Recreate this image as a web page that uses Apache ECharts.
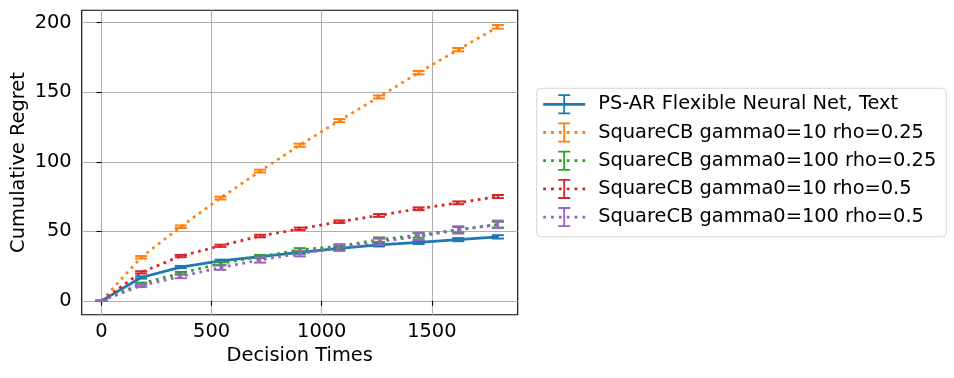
<!DOCTYPE html>
<html>
<head>
<meta charset="utf-8">
<script src="https://cdn.jsdelivr.net/npm/echarts@6/dist/echarts.min.js"></script>
<style>
  html, body { margin: 0; padding: 0; background: #fff; }
  #chart { width: 954px; height: 378px; }
</style>
</head>
<body>
<div id="chart"></div>
<script>
// decision times where the runs were checkpointed
var times = [0, 180, 360, 540, 720, 900, 1080, 1260, 1440, 1620, 1800];

var names = [
  "PS-AR Flexible Neural Net, Text",
  "SquareCB gamma0=10 rho=0.25",
  "SquareCB gamma0=100 rho=0.25",
  "SquareCB gamma0=10 rho=0.5",
  "SquareCB gamma0=100 rho=0.5"
];

var psarMean = [0, 16.8, 24.3, 28.7, 31.8, 34.9, 37.7, 40.2, 42.0, 44.0, 46.0];
var psarErr = [0, 0.8, 0.8, 0.9, 0.9, 1.0, 1.0, 1.1, 1.1, 1.1, 1.2];

var sq10q = [0, 31.3, 53.3, 73.9, 93.3, 111.9, 129.6, 146.6, 164.1, 180.6, 197.0];
var sq10qErr = [0, 0.9, 0.9, 1.0, 1.0, 1.1, 1.1, 1.1, 1.2, 1.2, 1.3];

var sq100q = [0, 12.4, 19.9, 26.8, 31.8, 36.6, 39.3, 44.0, 47.2, 51.2, 54.8];
var sq100qErr = [0, 0.7, 0.9, 1.0, 1.1, 1.3, 1.4, 1.6, 1.8, 1.9, 2.1];

var sq10h = [0, 20.5, 32.2, 39.6, 46.6, 51.8, 56.9, 61.4, 66.2, 70.5, 75.0];
var sq10hErr = [0, 0.8, 0.8, 0.8, 0.9, 0.9, 0.9, 1.0, 1.0, 1.0, 1.1];

var sq100h = [0, 10.9, 17.6, 23.9, 29.4, 34.0, 38.0, 42.5, 46.3, 51.0, 55.0];
var sq100hErr = [0, 1.0, 1.3, 1.6, 1.9, 2.0, 2.1, 2.2, 2.5, 2.6, 2.7];

var xTicks = [0, 500, 1000, 1500];
var yTicks = [0, 50, 100, 150, 200];

var colors = ["#1f77b4", "#ff7f0e", "#2ca02c", "#d62728", "#9467bd"];
var FONT = "DejaVu Sans";

var myChart = echarts.init(document.getElementById("chart"));

function errorBarItem(params, api) {
  var x = api.value(0);
  var y = api.value(1);
  var e = api.value(2);
  var top = api.coord([x, y + e]);
  var bot = api.coord([x, y - e]);
  var half = 6;
  var style = { stroke: api.visual("color"), lineWidth: 2 };
  return {
    type: "group",
    children: [
      { type: "line", shape: { x1: top[0], y1: top[1], x2: bot[0], y2: bot[1] }, style: style },
      { type: "line", shape: { x1: top[0] - half, y1: top[1], x2: top[0] + half, y2: top[1] }, style: style },
      { type: "line", shape: { x1: bot[0] - half, y1: bot[1], x2: bot[0] + half, y2: bot[1] }, style: style }
    ]
  };
}

// legend handles: line (solid or dotted) with an error bar across it
function rect(x, y, w, h) {
  return "M" + x + " " + y + "H" + (x + w) + "V" + (y + h) + "H" + x + "Z";
}
function legendIcon(dotted) {
  var p = "";
  if (dotted) {
    for (var i = 0; i < 6; i++) {
      p += rect(i * 7.84, 8.6, 2.8, 2.8);
    }
  } else {
    p += rect(0, 8.6, 42, 2.8);
  }
  p += rect(20.1, 0, 1.8, 20);
  p += rect(15, 0, 12, 1.8);
  p += rect(15, 18.2, 12, 1.8);
  return "path://" + p;
}

var means = [psarMean, sq10q, sq100q, sq10h, sq100h];
var errs = [psarErr, sq10qErr, sq100qErr, sq10hErr, sq100hErr];

var series = [];
for (var s = 0; s < names.length; s++) {
  var lineData = [];
  var barData = [];
  for (var i = 0; i < times.length; i++) {
    lineData.push([times[i], means[s][i]]);
    barData.push([times[i], means[s][i], errs[s][i]]);
  }
  series.push({
    name: names[s],
    type: "line",
    data: lineData,
    showSymbol: false,
    symbol: "none",
    color: colors[s],
    lineStyle: {
      color: colors[s],
      width: 2.75,
      type: s === 0 ? "solid" : [2.75, 4.55],
      cap: "butt"
    },
    silent: true,
    z: 2 + s
  });
  series.push({
    name: names[s],
    type: "custom",
    data: barData,
    encode: { x: 0, y: 1 },
    renderItem: errorBarItem,
    itemStyle: { color: colors[s] },
    silent: true,
    z: 2 + s
  });
}

var legendData = [];
for (var k = 0; k < names.length; k++) {
  legendData.push({ name: names[k], icon: legendIcon(k > 0) });
}

function plainNumber(v) {
  return String(v);
}

var option = {
  animation: false,
  backgroundColor: "#fff",
  textStyle: { fontFamily: FONT },
  grid: {
    left: 81.7,
    top: 10.3,
    right: 436.3,
    bottom: 63.3,
    show: true,
    borderColor: "#000",
    borderWidth: 1.1,
    backgroundColor: "transparent"
  },
  legend: {
    data: legendData,
    orient: "vertical",
    left: 536.7,
    top: 88.3,
    padding: [6, 10, 9.6, 6.5],
    itemWidth: 42,
    itemHeight: 20,
    itemGap: 8.2,
    symbolKeepAspect: false,
    itemStyle: { borderWidth: 0 },
    backgroundColor: "#fff",
    borderColor: "#d6d6d6",
    borderWidth: 1,
    borderRadius: 4,
    selectedMode: false,
    textStyle: {
      fontFamily: FONT,
      fontSize: 19.4,
      color: "#000",
      lineHeight: 20,
      padding: [0, 0, 0, 8]
    }
  },
  xAxis: {
    type: "value",
    min: -90,
    max: 1890,
    name: "Decision Times",
    nameLocation: "middle",
    nameGap: 31,
    nameTextStyle: { fontFamily: FONT, fontSize: 19.4, color: "#000" },
    axisLine: { show: false },
    axisTick: {
      show: true,
      customValues: xTicks,
      length: 4.9,
      lineStyle: { color: "#000", width: 1.1 }
    },
    axisLabel: {
      customValues: xTicks,
      formatter: plainNumber,
      margin: 8,
      fontFamily: FONT,
      fontSize: 19.4,
      color: "#000"
    },
    splitLine: { show: true, lineStyle: { color: "#b0b0b0", width: 1.1 } }
  },
  yAxis: {
    type: "value",
    min: -9.95,
    max: 208.9,
    name: "Cumulative Regret",
    nameLocation: "middle",
    nameGap: 53,
    nameTextStyle: { fontFamily: FONT, fontSize: 19.4, color: "#000" },
    axisLine: { show: false },
    axisTick: {
      show: true,
      customValues: yTicks,
      length: 4.9,
      lineStyle: { color: "#000", width: 1.1 }
    },
    axisLabel: {
      customValues: yTicks,
      formatter: plainNumber,
      margin: 10,
      fontFamily: FONT,
      fontSize: 19.4,
      color: "#000"
    },
    splitLine: { show: true, lineStyle: { color: "#b0b0b0", width: 1.1 } }
  },
  series: series
};

myChart.setOption(option);
</script>
</body>
</html>
